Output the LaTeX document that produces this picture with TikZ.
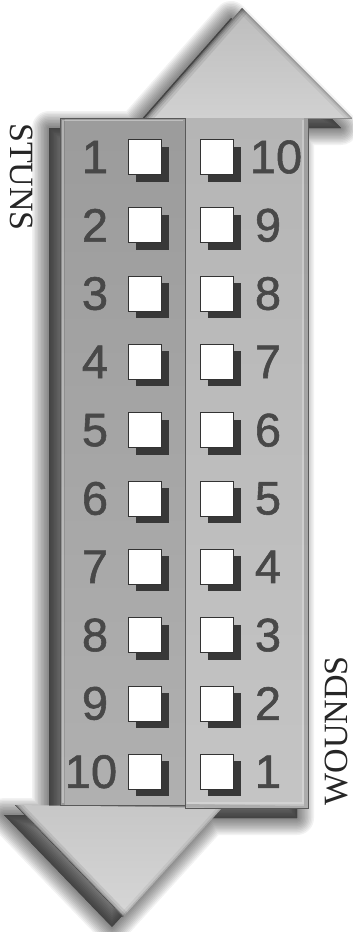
\documentclass[tikz,border=0pt]{standalone}
\usepackage{fontspec}
\setmainfont{Liberation Serif}
\newfontfamily\digitfont[FakeBold=1.2]{Liberation Sans}
\begin{document}
\begin{tikzpicture}[x=1pt,y=-1pt]
\definecolor{numgray}{HTML}{484848}
\tikzset{
  numtxt/.style={font=\digitfont\fontsize{47}{47}\selectfont, text=numgray, inner sep=0pt},
  sqwhite/.style={draw=black!80, line width=0.8pt, fill=white, minimum width=33pt, minimum height=35pt, inner sep=0pt},
  sqshadow/.style={fill=black!78, minimum width=33pt, minimum height=35pt, inner sep=0pt},
  sidelabel/.style={font=\fontsize{34}{34}\selectfont, text=black!85, inner sep=0pt},
  edge/.style={line width=1pt, draw=black!65},
}
\useasboundingbox (0,0) rectangle (353,932);
\fill[white] (0,0) rectangle (353,932);
\def\outline{(242,8) -- (352,118) -- (308,118) -- (308,808) -- (222,808) -- (123,917) -- (15,805) -- (60,805) -- (60,118) -- (145,118) -- cycle}
% soft shadow
\begin{scope}[shift={(-11,10)}]
  \foreach \w in {34,31,...,1}
    \filldraw[black, opacity=0.05, line width=\w pt, line join=round] \outline;
\end{scope}
% up arrow head
\shade[top color=black!26, bottom color=black!18] (145,118) -- (242,8) -- (352,118) -- cycle;
\begin{scope}
  \clip (145,118) -- (242,8) -- (352,118) -- cycle;
  \foreach \w/\o in {14/0.08, 9/0.1, 5/0.14, 2/0.2}
    \draw[black, opacity=\o, line width=\w pt] (145,118) -- (242,8);
  \foreach \w/\o in {10/0.05, 5/0.08, 2/0.12}
    \draw[black, opacity=\o, line width=\w pt] (242,8) -- (352,118);
\end{scope}
% up arrow shaft (right panel)
\shade[top color=black!29, bottom color=black!23] (185,118) rectangle (308,808);
\begin{scope}
  \clip (185,118) rectangle (308,808);
  \draw[black, opacity=0.12, line width=4pt] (306,118) -- (306,808) -- (185,806);
  \draw[white, opacity=0.25, line width=1.5pt] (303,120) -- (303,803) -- (187,803);
\end{scope}
% down arrow head
\shade[top color=black!22, bottom color=black!16] (15,805) -- (222,808) -- (123,917) -- cycle;
\begin{scope}
  \clip (15,805) -- (222,808) -- (123,917) -- cycle;
  \foreach \w/\o in {12/0.08, 7/0.1, 3/0.18}
    \draw[black, opacity=\o, line width=\w pt] (15,805) -- (123,917);
  \draw[black, opacity=0.5, line width=1pt] (15,805) -- (123,917);
  \foreach \w/\o in {8/0.05, 3/0.1}
    \draw[black, opacity=\o, line width=\w pt] (222,808) -- (123,917);
\end{scope}
% left panel (down arrow shaft)
\shade[top color=black!39, bottom color=black!31] (60,118) rectangle (185,805);
\begin{scope}
  \clip (60,118) rectangle (185,805);
  \draw[black, opacity=0.12, line width=6pt] (62,805) -- (62,118);
\end{scope}
\draw[white, opacity=0.35, line width=1.5pt] (63,803) -- (63,120.5) -- (183,120.5);
\draw[edge] (60,118) rectangle (185,805);
% right panel edges
\draw[edge] (185,118) -- (185,808) -- (308,808) -- (308,118);
\draw[edge, draw=black!45] (308,118) -- (352,118);
% side labels
\node[sidelabel, rotate=-90] (stuns) at (22,177) {STUNS};
\node[sidelabel, rotate=90] (wounds) at (336.5,731) {WOUNDS};
% rows
\foreach \i in {1,...,10} {
  \pgfmathsetmacro{\yy}{157+(\i-1)*68.3}
  \pgfmathtruncatemacro{\j}{11-\i}
  \node[sqshadow] (Lsh\i) at (152,\yy+7) {};
  \node[sqwhite] (Lsq\i) at (144.5,\yy) {};
  \node[sqshadow] (Rsh\i) at (224.5,\yy+7) {};
  \node[sqwhite] (Rsq\i) at (217,\yy) {};
  \ifnum\i=10
    \node[numtxt] (Ln\i) at (91,\yy) {\i};
  \else
    \node[numtxt] (Ln\i) at (95,\yy) {\i};
  \fi
  \ifnum\j=10
    \node[numtxt] (Rn\i) at (276,\yy) {\j};
  \else
    \node[numtxt] (Rn\i) at (268,\yy) {\j};
  \fi
}
\end{tikzpicture}
\end{document}
